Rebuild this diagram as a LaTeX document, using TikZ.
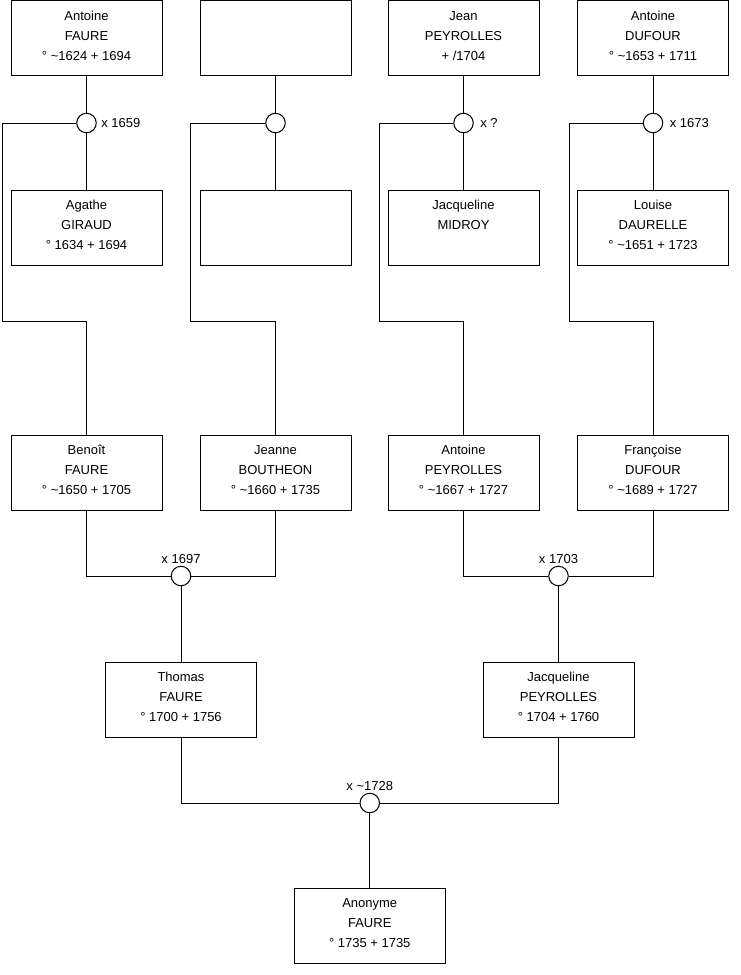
\documentclass[tikz,border=0pt]{standalone}
\usepackage{fontspec}
\setmainfont{Liberation Sans}
\newcommand{\ptxt}[3]{\rule{0pt}{10pt}#1\\#2\\#3\rule[-6pt]{0pt}{6pt}}
\begin{document}
\begin{tikzpicture}[x=1pt,y=-1pt,line width=1pt,
  pbox/.style={draw=black, minimum width=151pt, minimum height=75pt, inner sep=0pt, align=center, font=\fontsize{13}{20}\selectfont},
  knot/.style={draw=black, circle, fill=white, minimum size=19.5pt, inner sep=0pt},
  lbl/.style={font=\fontsize{13}{15}\selectfont, inner sep=1pt},
  link/.style={draw=black, line width=1pt}]
\useasboundingbox[fill=white] (0,0) rectangle (740,975);

% row 1
\node[pbox] (A1) at (86.5,38) {\ptxt{Antoine}{FAURE}{° \textasciitilde1624 + 1694}};
\node[pbox] (A2) at (275.5,38) {};
\node[pbox] (A3) at (463.5,38) {\ptxt{Jean}{PEYROLLES}{+ /1704}};
\node[pbox] (A4) at (653,38) {\ptxt{Antoine}{DUFOUR}{° \textasciitilde1653 + 1711}};
% row 2
\node[pbox] (B1) at (86.5,227.5) {\ptxt{Agathe}{GIRAUD}{° 1634 + 1694}};
\node[pbox] (B2) at (275.5,227.5) {};
\node[pbox] (B3) at (463.5,227.5) {\ptxt{Jacqueline}{MIDROY}{}};
\node[pbox] (B4) at (653,227.5) {\ptxt{Louise}{DAURELLE}{° \textasciitilde1651 + 1723}};
% row 3
\node[pbox] (C1) at (86.5,472.5) {\ptxt{Benoît}{FAURE}{° \textasciitilde1650 + 1705}};
\node[pbox] (C2) at (275.5,472.5) {\ptxt{Jeanne}{BOUTHEON}{° \textasciitilde1660 + 1735}};
\node[pbox] (C3) at (463.5,472.5) {\ptxt{Antoine}{PEYROLLES}{° \textasciitilde1667 + 1727}};
\node[pbox] (C4) at (653,472.5) {\ptxt{Françoise}{DUFOUR}{° \textasciitilde1689 + 1727}};
% row 4
\node[pbox] (D1) at (181,699.5) {\ptxt{Thomas}{FAURE}{° 1700 + 1756}};
\node[pbox] (D2) at (558.5,699.5) {\ptxt{Jacqueline}{PEYROLLES}{° 1704 + 1760}};
% row 5
\node[pbox] (E) at (369.75,925.5) {\ptxt{Anonyme}{FAURE}{° 1735 + 1735}};

% marriage knots
\node[knot] (c1) at (86.5,123) {};
\node[knot] (c2) at (275.5,123) {};
\node[knot] (c3) at (463.5,123) {};
\node[knot] (c4) at (653,123) {};
\node[knot] (c5) at (181,576) {};
\node[knot] (c6) at (558.5,576) {};
\node[knot] (c7) at (369.75,803) {};

% bend points
\coordinate (t1) at (2.5,321);
\coordinate (t2) at (190.5,321);
\coordinate (t3) at (379.5,321);
\coordinate (t4) at (569.5,321);

% connectors
\draw[link] (A1) -- (c1) -- (B1);
\draw[link] (A2) -- (c2) -- (B2);
\draw[link] (A3) -- (c3) -- (B3);
\draw[link] (A4) -- (c4) -- (B4);
\draw[link] (c1.west) -| (t1) -| (C1.north);
\draw[link] (c2.west) -| (t2) -| (C2.north);
\draw[link] (c3.west) -| (t3) -| (C3.north);
\draw[link] (c4.west) -| (t4) -| (C4.north);
\draw[link] (C1.south) |- (c5.west);
\draw[link] (C2.south) |- (c5.east);
\draw[link] (c5) -- (D1);
\draw[link] (C3.south) |- (c6.west);
\draw[link] (C4.south) |- (c6.east);
\draw[link] (c6) -- (D2);
\draw[link] (D1.south) |- (c7.west);
\draw[link] (D2.south) |- (c7.east);
\draw[link] (c7) -- (E);

% labels
\node[lbl, anchor=west, xshift=3pt] (l1) at (c1.east) {x 1659};
\node[lbl, anchor=west, xshift=5pt] (l3) at (c3.east) {x ?};
\node[lbl, anchor=west, xshift=5pt] (l4) at (c4.east) {x 1673};
\node[lbl, anchor=south, yshift=1pt] (l5) at (c5.north) {x 1697};
\node[lbl, anchor=south, yshift=1pt] (l6) at (c6.north) {x 1703};
\node[lbl, anchor=south, yshift=1pt] (l7) at (c7.north) {x \textasciitilde1728};
\end{tikzpicture}
\end{document}
